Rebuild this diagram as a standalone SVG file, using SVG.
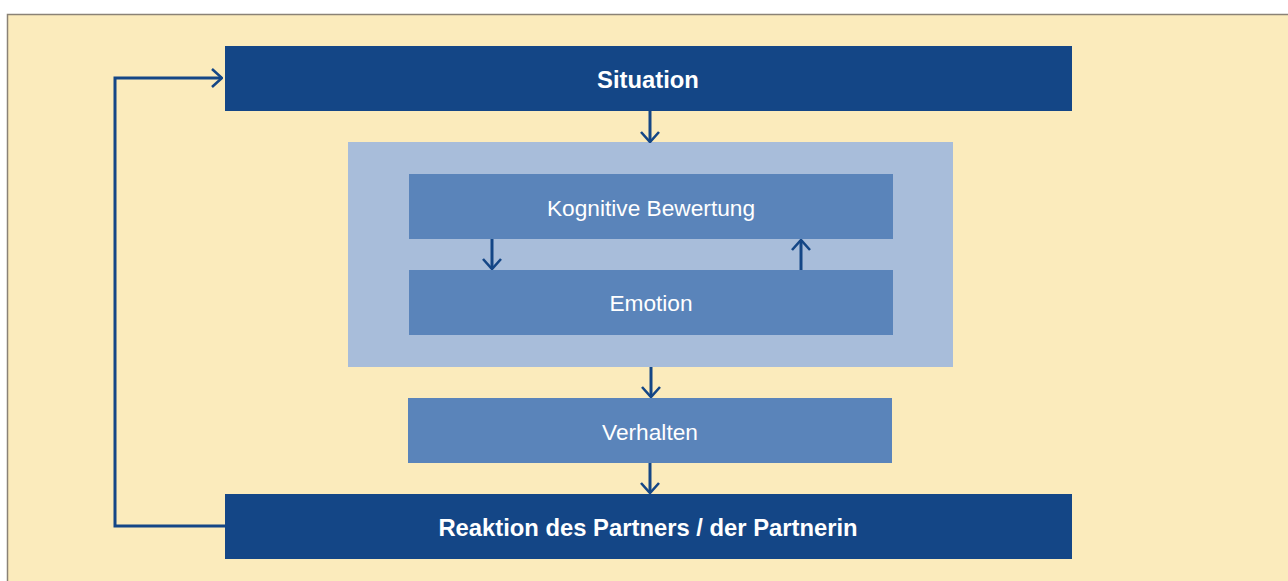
<svg xmlns="http://www.w3.org/2000/svg" width="1288" height="581" viewBox="0 0 1288 581">
  <defs>
    <marker id="chev" viewBox="0 0 12 20" refX="11" refY="10" markerWidth="12" markerHeight="20" markerUnits="userSpaceOnUse" orient="auto">
      <path d="M1,1 L11,10 L1,19" fill="none" stroke="#144686" stroke-width="2.6"/>
    </marker>
  </defs>
  <style>
    .dark { fill: #144686; }
    .mid { fill: #5A84BA; }
    .light { fill: #A8BDDA; }
    .t { font-family: "Liberation Sans", Arial, sans-serif; fill: #ffffff; text-anchor: middle; dominant-baseline: central; }
    .b { font-weight: bold; font-size: 23.8px; }
    .r { font-size: 22.7px; }
    .con { fill: none; stroke: #144686; stroke-width: 3; marker-end: url(#chev); }
  </style>

  <rect x="0" y="0" width="1288" height="581" fill="#ffffff"/>
  <rect x="7.5" y="14.5" width="1290" height="580" fill="#FBEBBC" stroke="#8a8276" stroke-width="1.5"/>

  <g id="verarbeitung">
    <rect class="light" x="348" y="142" width="605" height="225"/>
  </g>

  <g id="situation">
    <rect class="dark" x="225" y="46" width="847" height="65"/>
    <text class="t b" x="648" y="79">Situation</text>
  </g>

  <g id="bewertung">
    <rect class="mid" x="409" y="174" width="484" height="65"/>
    <text class="t r" x="651" y="208">Kognitive Bewertung</text>
  </g>

  <g id="emotion">
    <rect class="mid" x="409" y="270" width="484" height="65"/>
    <text class="t r" x="651" y="303">Emotion</text>
  </g>

  <g id="verhalten">
    <rect class="mid" x="408" y="398" width="484" height="65"/>
    <text class="t r" x="650" y="432">Verhalten</text>
  </g>

  <g id="reaktion">
    <rect class="dark" x="225" y="494" width="847" height="65"/>
    <text class="t b" x="648" y="527">Reaktion des Partners / der Partnerin</text>
  </g>

  <g id="connectors">
    <path class="con" d="M650,111 V142"/>
    <path class="con" d="M492,239 V269"/>
    <path class="con" d="M801,270 V240"/>
    <path class="con" d="M651,367 V397"/>
    <path class="con" d="M650,463 V493"/>
    <path class="con" d="M225,526 H115 V78 H222"/>
  </g>
</svg>
